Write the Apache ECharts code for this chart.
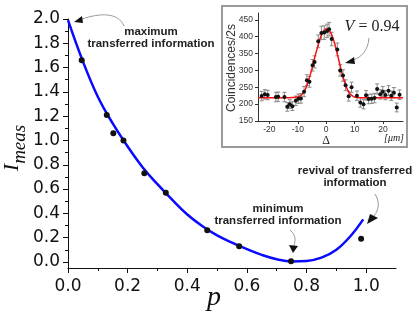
<!DOCTYPE html>
<html>
<head>
    <meta charset="UTF-8">
    <script src="https://cdn.jsdelivr.net/npm/echarts@6/dist/echarts.min.js"></script>
    <style>
      html, body { margin: 0; padding: 0; background: #fff; }
      #main { width: 415px; height: 320px; }
    </style>
</head>
<body>
<div id="main"></div>
<script>
    // main plot: measured points and fitted curve
    var pMeas = [0.046, 0.13, 0.152, 0.186, 0.256, 0.328, 0.467, 0.574, 0.748, 0.983];
    var iMeas = [1.66, 1.21, 1.06, 1.00, 0.73, 0.57, 0.26, 0.13, 0.005, 0.19];

    var pFit = [0, 0.05, 0.1, 0.15, 0.2, 0.25, 0.3, 0.35, 0.4, 0.45, 0.5, 0.55, 0.6, 0.65, 0.7, 0.75, 0.8, 0.85, 0.9, 0.95, 0.99];
    var iFit = [1.99, 1.65, 1.36, 1.14, 0.95, 0.78, 0.64, 0.51, 0.39, 0.295, 0.218, 0.158, 0.105, 0.058, 0.022, 0.004, 0.008, 0.035, 0.10, 0.22, 0.35];

    var pTicks = [0, 0.2, 0.4, 0.6, 0.8, 1.0];
    var pMinor = [0.1, 0.3, 0.5, 0.7, 0.9];
    var iTicks = [0, 0.2, 0.4, 0.6, 0.8, 1.0, 1.2, 1.4, 1.6, 1.8, 2.0];
    var iMinor = [0.1, 0.3, 0.5, 0.7, 0.9, 1.1, 1.3, 1.5, 1.7, 1.9];

    // inset: coincidences vs delta
    var delta = [-22.7, -21.6, -20.6, -17.7, -16.9, -14.7, -13.7, -12.8, -11.9, -10.7, -9.8, -8.9, -7.8, -6.8, -5.9, -4.8, -4.1,
                 -2.8, -1.7, -0.7, 0.3, 1.0, 1.9, 3.9, 4.9, 5.9, 6.8, 7.9, 8.9, 10.8, 12.0, 13.1, 14.0, 14.9, 16.0, 17.0,
                 17.9, 19.0, 19.9, 20.8, 21.9, 22.9, 23.8, 24.8, 25.8];
    var counts = [224, 229, 227, 221, 222, 221, 192, 200, 194, 210, 216, 217, 237, 271, 266, 315, 325,
                  386, 411, 412, 417, 422, 393, 362, 300, 285, 256, 223, 250, 225, 205, 200, 226, 215, 216, 218,
                  245, 229, 237, 227, 240, 225, 234, 190, 228];
    var countErr = [14, 14, 14, 14, 14, 14, 13, 13, 13, 14, 14, 14, 15, 16, 16, 17, 18,
                    19, 20, 20, 20, 20, 20, 19, 17, 17, 16, 14, 15, 14, 14, 14, 14, 14, 14, 14,
                    15, 14, 15, 14, 15, 14, 15, 13, 14];

    var dFit = [-24, -14, -12, -10, -9, -8, -7, -6, -5, -4, -3, -2, -1, 0, 1, 2, 3, 4, 5, 6, 7, 8, 9, 10, 11, 13, 27];
    var cFit = [219, 219, 219.5, 221, 225, 234, 251, 276, 306, 340, 370, 398, 416, 423, 419, 404, 378, 345, 310, 278, 252, 235, 226, 221, 219.5, 219, 219];

    var dTicks = [-20, -10, 0, 10, 20];
    var cTicks = [150, 200, 250, 300, 350, 400, 450];

    var black = '#111';
    var sans = 'DejaVu Sans';

    function pairs(a, b) { return a.map(function (v, i) { return [v, b[i]]; }); }

    function arrow(x0, y0, c1x, c1y, c2x, c2y, x1, y1, tri) {
        return [
            { type: 'bezierCurve', shape: { x1: x0, y1: y0, cpx1: c1x, cpy1: c1y, cpx2: c2x, cpy2: c2y, x2: x1, y2: y1 },
              style: { stroke: '#999', lineWidth: 1, fill: null } },
            { type: 'polygon', shape: { points: tri }, style: { fill: '#111' } }
        ];
    }

    var note = function (x, y, txt) {
        return { type: 'text', x: x, y: y, style: { text: txt, font: 'bold 11.5px "Liberation Sans"', fill: '#222',
                 align: 'center', verticalAlign: 'middle', lineHeight: 12.5 } };
    };

    var hiddenLine = { show: true, onZero: false, lineStyle: { opacity: 0 } };

    var myChart = echarts.init(document.getElementById('main'));
    var option = {
        animation: false,
        grid: [
            { left: 68, right: 19, top: 19, bottom: 52 },
            { left: 258, right: 12, top: 13, bottom: 199 }
        ],
        xAxis: [
            { type: 'value', gridIndex: 0, min: 0, max: 1.1, position: 'bottom',
              axisLine: { onZero: false, lineStyle: { color: black, width: 1 } },
              axisTick: { customValues: pTicks, length: 5, lineStyle: { color: black } },
              axisLabel: { customValues: pTicks, margin: 10, color: black, fontFamily: sans, fontSize: 17,
                           formatter: function (v) { return v.toFixed(1); } },
              splitLine: { show: false } },
            { type: 'value', gridIndex: 0, min: 0, max: 1.1, position: 'bottom',
              axisLine: hiddenLine,
              axisTick: { customValues: pMinor, length: 3, lineStyle: { color: black } },
              axisLabel: { show: false }, splitLine: { show: false } },
            { type: 'value', gridIndex: 1, min: -24, max: 27, position: 'bottom',
              axisLine: { onZero: false, lineStyle: { color: '#333' } },
              axisTick: { customValues: dTicks, length: 3, lineStyle: { color: '#333' } },
              axisLabel: { customValues: dTicks, margin: 4, color: '#333', fontFamily: 'Liberation Sans', fontSize: 8.5 },
              splitLine: { show: false } }
        ],
        yAxis: [
            { type: 'value', gridIndex: 0, min: -0.05, max: 2.0, position: 'left',
              axisLine: { show: true, onZero: false, lineStyle: { color: black, width: 1 } },
              axisTick: { customValues: iTicks, length: 5, lineStyle: { color: black } },
              axisLabel: { customValues: iTicks, margin: 8, color: black, fontFamily: sans, fontSize: 17,
                           formatter: function (v) { return v.toFixed(1); } },
              splitLine: { show: false } },
            { type: 'value', gridIndex: 0, min: -0.05, max: 2.0, position: 'left',
              axisLine: hiddenLine,
              axisTick: { customValues: iMinor, length: 3, lineStyle: { color: black } },
              axisLabel: { show: false }, splitLine: { show: false } },
            { type: 'value', gridIndex: 1, min: 150, max: 470, position: 'left',
              axisLine: { show: true, onZero: false, lineStyle: { color: '#333' } },
              axisTick: { customValues: cTicks, length: 3, lineStyle: { color: '#333' } },
              axisLabel: { customValues: cTicks, margin: 5, color: '#333', fontFamily: 'Liberation Sans', fontSize: 8.5 },
              splitLine: { show: false } }
        ],
        series: [
            { type: 'line', xAxisIndex: 0, yAxisIndex: 0, data: pairs(pFit, iFit), smooth: 0.4,
              showSymbol: false, lineStyle: { color: '#0a0aff', width: 2.5 }, z: 3 },
            { type: 'scatter', xAxisIndex: 0, yAxisIndex: 0, data: pairs(pMeas, iMeas),
              symbolSize: 6, itemStyle: { color: black, opacity: 1 }, z: 4 },
            { type: 'custom', xAxisIndex: 2, yAxisIndex: 2,
              data: delta.map(function (d, i) { return [d, counts[i], countErr[i]]; }),
              encode: { x: 0, y: 1 },
              renderItem: function (params, api) {
                  var x = api.value(0), y = api.value(1), e = api.value(2);
                  var t = api.coord([x, y + e]), b = api.coord([x, y - e]);
                  var st = { stroke: '#8a8a8a', lineWidth: 1 };
                  return { type: 'group', children: [
                      { type: 'line', shape: { x1: t[0], y1: t[1], x2: b[0], y2: b[1] }, style: st },
                      { type: 'line', shape: { x1: t[0] - 2, y1: t[1], x2: t[0] + 2, y2: t[1] }, style: st },
                      { type: 'line', shape: { x1: b[0] - 2, y1: b[1], x2: b[0] + 2, y2: b[1] }, style: st }
                  ] };
              }, z: 2 },
            { type: 'line', xAxisIndex: 2, yAxisIndex: 2, data: pairs(dFit, cFit), smooth: 0.4,
              showSymbol: false, lineStyle: { color: '#ff1010', width: 1.5 }, z: 3 },
            { type: 'scatter', xAxisIndex: 2, yAxisIndex: 2, data: pairs(delta, counts),
              symbolSize: 4, itemStyle: { color: black, opacity: 1 }, z: 4 }
        ],
        graphic: [
            // inset frame
            { type: 'rect', shape: { x: 222, y: 6, width: 185, height: 141 },
              style: { stroke: '#9a9a9a', lineWidth: 2, fill: null }, z: 1 },
            // axis names
            { type: 'text', x: 15, y: 148, rotation: Math.PI / 2,
              style: { text: '{a|I}{b|meas}', align: 'center', verticalAlign: 'middle',
                       rich: { a: { font: 'italic 22px "Liberation Serif"', fill: black, padding: [0, 0, 6, 0], verticalAlign: 'bottom' },
                               b: { font: 'italic 19px "Liberation Serif"', fill: black, verticalAlign: 'bottom' } } } },
            { type: 'text', x: 214, y: 298,
              style: { text: 'p', font: 'italic 28px "Liberation Serif"', fill: black, align: 'center', verticalAlign: 'middle' } },
            { type: 'text', x: 232, y: 68, rotation: Math.PI / 2,
              style: { text: 'Coincidences/2s', font: '12px "Liberation Sans"', fill: '#333', align: 'center', verticalAlign: 'middle' } },
            { type: 'text', x: 326, y: 141,
              style: { text: 'Δ', font: '12px "Liberation Serif"', fill: '#222', align: 'center', verticalAlign: 'middle' } },
            { type: 'text', x: 394, y: 138,
              style: { text: '[μm]', font: 'italic 10px "Liberation Serif"', fill: '#222', align: 'center', verticalAlign: 'middle' } },
            { type: 'text', x: 372, y: 27,
              style: { text: '{v|V} = 0.94', font: '16px "Liberation Serif"', fill: '#222', align: 'center', verticalAlign: 'middle',
                       rich: { v: { font: 'italic 16px "Liberation Serif"', fill: '#222' } } } },
            note(151, 38, 'maximum\ntransferred information'),
            note(278, 215, 'minimum\ntransferred information'),
            note(355, 177, 'revival of transferred\ninformation')
        ]
            .concat(arrow(124, 26, 118, 12, 100, 13, 82, 19, [[74, 22], [82, 16], [83, 23]]))
            .concat(arrow(290, 230, 297, 236, 295, 241, 294, 246, [[293, 253], [289, 245], [298, 246]]))
            .concat(arrow(375, 194, 380, 202, 379, 210, 374, 216, [[367, 224], [370, 214], [378, 218]]))
            .concat(arrow(369, 38, 368, 50, 362, 57, 353, 60, [[345, 63], [354, 57], [355, 64]]))
    };

    myChart.setOption(option);
</script>
</body>
</html>
